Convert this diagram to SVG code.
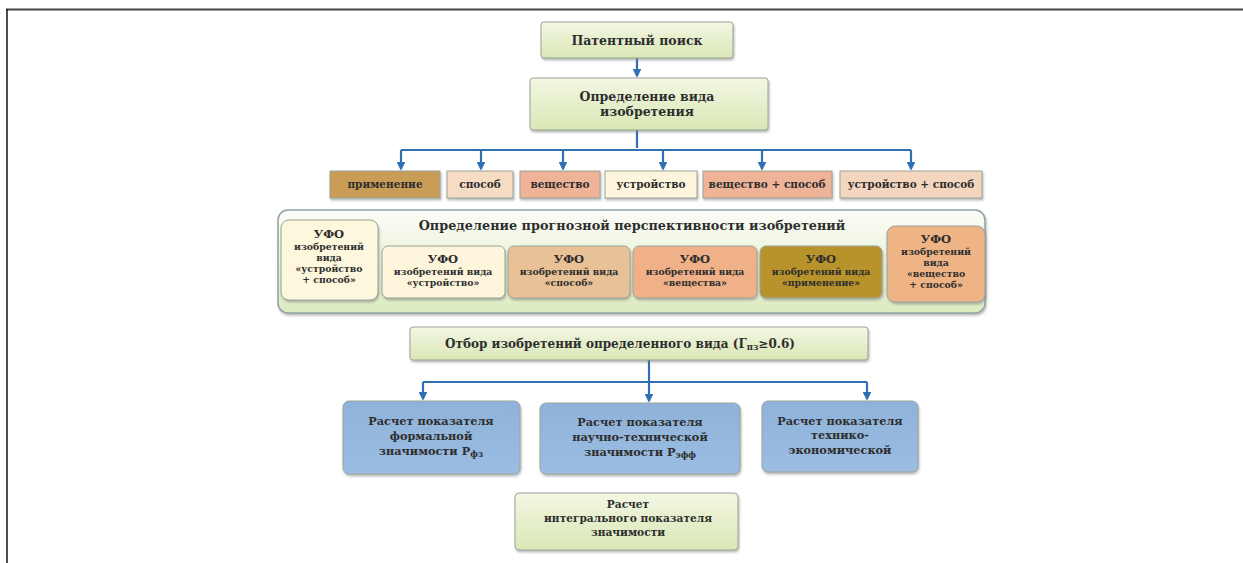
<svg xmlns="http://www.w3.org/2000/svg" width="1243" height="563" viewBox="0 0 1243 563">
<defs>
<linearGradient id="gGreen" x1="0" y1="0" x2="0" y2="1"><stop offset="0" stop-color="#f3f7e4"/><stop offset="1" stop-color="#d9e7b4"/></linearGradient>
<linearGradient id="gCont" x1="0" y1="0" x2="0" y2="1"><stop offset="0" stop-color="#fbfcf7"/><stop offset="1" stop-color="#dcebc0"/></linearGradient>
<linearGradient id="gBlue" x1="0" y1="0" x2="0" y2="1"><stop offset="0" stop-color="#8fb2da"/><stop offset="1" stop-color="#9bbde2"/></linearGradient>
<marker id="arr" viewBox="0 0 10 10" refX="8" refY="5" markerWidth="4" markerHeight="4" orient="auto"><path d="M0,0 L10,5 L0,10 z" fill="#2e70b3"/></marker>
<filter id="sh" x="-10%" y="-10%" width="120%" height="130%"><feDropShadow dx="1" dy="2" stdDeviation="1.2" flood-color="#777" flood-opacity="0.5"/></filter>
</defs>
<style>
text{font-family:"DejaVu Serif","Liberation Serif",serif;font-weight:bold;fill:#2e2e2e;text-anchor:middle}
.t11{font-size:12.5px}
.tb{font-size:11.3px}
.ti{font-size:10.6px}
.to{font-size:12px}
.t10{font-size:10.5px}
.t9{font-size:9.3px}
.u{font-size:11.5px}
.t12{font-size:12.8px}
.bx{stroke:#9aa49a;stroke-width:1;filter:url(#sh)}
.conn{stroke:#2e70b3;stroke-width:2.2;fill:none}
</style>
<rect width="1243" height="563" fill="#fff"/>
<line x1="6" y1="9.5" x2="1243" y2="9.5" stroke="#444" stroke-width="2"/>
<line x1="7" y1="9" x2="7" y2="563" stroke="#111" stroke-width="1.5"/>

<g id="connectors">
<line class="conn" x1="637" y1="58" x2="637" y2="76" marker-end="url(#arr)"/>
<line class="conn" x1="637" y1="130" x2="637" y2="148"/>
<polyline class="conn" points="401,150 911,150"/>
<line class="conn" x1="401" y1="150" x2="401" y2="169" marker-end="url(#arr)"/>
<line class="conn" x1="481" y1="150" x2="481" y2="169" marker-end="url(#arr)"/>
<line class="conn" x1="563" y1="150" x2="563" y2="169" marker-end="url(#arr)"/>
<line class="conn" x1="663" y1="150" x2="663" y2="169" marker-end="url(#arr)"/>
<line class="conn" x1="762" y1="150" x2="762" y2="169" marker-end="url(#arr)"/>
<line class="conn" x1="911" y1="150" x2="911" y2="169" marker-end="url(#arr)"/>
<line class="conn" x1="649" y1="360" x2="649" y2="382"/>
<polyline class="conn" points="423,382 867,382"/>
<line class="conn" x1="423" y1="382" x2="423" y2="399" marker-end="url(#arr)"/>
<line class="conn" x1="649" y1="382" x2="649" y2="401" marker-end="url(#arr)"/>
<line class="conn" x1="867" y1="382" x2="867" y2="399" marker-end="url(#arr)"/>
</g>

<g id="n-patent">
<rect class="bx" x="541" y="22" width="192" height="36" rx="3" fill="url(#gGreen)"/>
<text class="t11" x="637" y="45">Патентный поиск</text>
</g>
<g id="n-vid">
<rect class="bx" x="530" y="78" width="238" height="52" rx="3" fill="url(#gGreen)"/>
<text class="t11" x="647" y="101">Определение вида</text>
<text class="t11" x="647" y="116">изобретения</text>
</g>

<g id="n-primenenie">
<rect class="bx" x="330" y="171" width="110" height="27" fill="#c99d55"/>
<text class="t10" x="385" y="188">применение</text>
</g>
<g id="n-sposob">
<rect class="bx" x="447" y="171" width="66" height="27" fill="#f5dcc3"/>
<text class="t10" x="480" y="188">способ</text>
</g>
<g id="n-veshchestvo">
<rect class="bx" x="520" y="171" width="80" height="27" fill="#efb397"/>
<text class="t10" x="560" y="188">вещество</text>
</g>
<g id="n-ustroystvo">
<rect class="bx" x="605" y="171" width="92" height="27" fill="#fdf6dd"/>
<text class="t10" x="651" y="188">устройство</text>
</g>
<g id="n-vesh-sposob">
<rect class="bx" x="703" y="171" width="129" height="27" fill="#efb397"/>
<text class="t10" x="767" y="188">вещество + способ</text>
</g>
<g id="n-ustr-sposob">
<rect class="bx" x="840" y="171" width="142" height="27" fill="#f4d6bf"/>
<text class="t10" x="911" y="188">устройство + способ</text>
</g>

<g id="n-prognoz">
<rect x="278" y="210" width="707" height="103" rx="10" fill="url(#gCont)" stroke="#8ea2a8" stroke-width="1.5" filter="url(#sh)"/>
<text class="t12" x="632" y="230">Определение прогнозной перспективности изобретений</text>
</g>
<g id="n-ufo-us">
<rect class="bx" x="281" y="220" width="97" height="80" rx="8" fill="#fdf7dd"/>
<text class="u" x="329" y="238">УФО</text>
<text class="t9" x="329" y="250">изобретений</text>
<text class="t9" x="329" y="261">вида</text>
<text class="t9" x="329" y="272">«устройство</text>
<text class="t9" x="329" y="283">+ способ»</text>
</g>
<g id="n-ufo-u">
<rect class="bx" x="382" y="246" width="123" height="52" rx="6" fill="#fdf6dc"/>
<text class="u" x="443" y="263">УФО</text>
<text class="t9" x="443" y="275">изобретений вида</text>
<text class="t9" x="443" y="286">«устройство»</text>
</g>
<g id="n-ufo-s">
<rect class="bx" x="508" y="246" width="122" height="52" rx="6" fill="#e9c197"/>
<text class="u" x="569" y="263">УФО</text>
<text class="t9" x="569" y="275">изобретений вида</text>
<text class="t9" x="569" y="286">«способ»</text>
</g>
<g id="n-ufo-v">
<rect class="bx" x="633" y="246" width="124" height="52" rx="6" fill="#f0b088"/>
<text class="u" x="695" y="263">УФО</text>
<text class="t9" x="695" y="275">изобретений вида</text>
<text class="t9" x="695" y="286">«вещества»</text>
</g>
<g id="n-ufo-p">
<rect class="bx" x="760" y="246" width="122" height="52" rx="6" fill="#b8922c"/>
<text class="u" x="821" y="263">УФО</text>
<text class="t9" x="821" y="275">изобретений вида</text>
<text class="t9" x="821" y="286">«применение»</text>
</g>
<g id="n-ufo-vs">
<rect class="bx" x="887" y="226" width="98" height="76" rx="8" fill="#efb486"/>
<text class="u" x="936" y="243">УФО</text>
<text class="t9" x="936" y="255">изобретений</text>
<text class="t9" x="936" y="266">вида</text>
<text class="t9" x="936" y="277">«вещество</text>
<text class="t9" x="936" y="288">+ способ»</text>
</g>

<g id="n-otbor">
<rect class="bx" x="410" y="327" width="458" height="33" rx="3" fill="url(#gGreen)"/>
<text class="to" x="620" y="348">Отбор изобретений определенного вида (Г<tspan font-size="8.5" dy="2">пз</tspan><tspan dy="-2">≥0.6)</tspan></text>
</g>

<g id="n-formal">
<rect class="bx" x="343" y="401" width="177" height="73" rx="6" fill="url(#gBlue)" stroke="#7f98b8"/>
<text class="tb" x="431" y="425">Расчет показателя</text>
<text class="tb" x="431" y="440">формальной</text>
<text class="tb" x="431" y="455">значимости Р<tspan font-size="8.5" dy="2">фз</tspan></text>
</g>
<g id="n-nauch">
<rect class="bx" x="540" y="403" width="200" height="71" rx="6" fill="url(#gBlue)" stroke="#7f98b8"/>
<text class="tb" x="640" y="426">Расчет показателя</text>
<text class="tb" x="640" y="441">научно-технической</text>
<text class="tb" x="640" y="456">значимости Р<tspan font-size="8.5" dy="2">эфф</tspan></text>
</g>
<g id="n-tech">
<rect class="bx" x="762" y="401" width="156" height="71" rx="6" fill="url(#gBlue)" stroke="#7f98b8"/>
<text class="tb" x="840" y="425">Расчет показателя</text>
<text class="tb" x="840" y="439">технико-</text>
<text class="tb" x="840" y="454">экономической</text>
</g>

<g id="n-integral">
<rect class="bx" x="515" y="493" width="223" height="57" rx="4" fill="url(#gGreen)"/>
<text class="ti" x="628" y="508">Расчет</text>
<text class="ti" x="628" y="522">интегрального показателя</text>
<text class="ti" x="628" y="536">значимости</text>
</g>
</svg>
